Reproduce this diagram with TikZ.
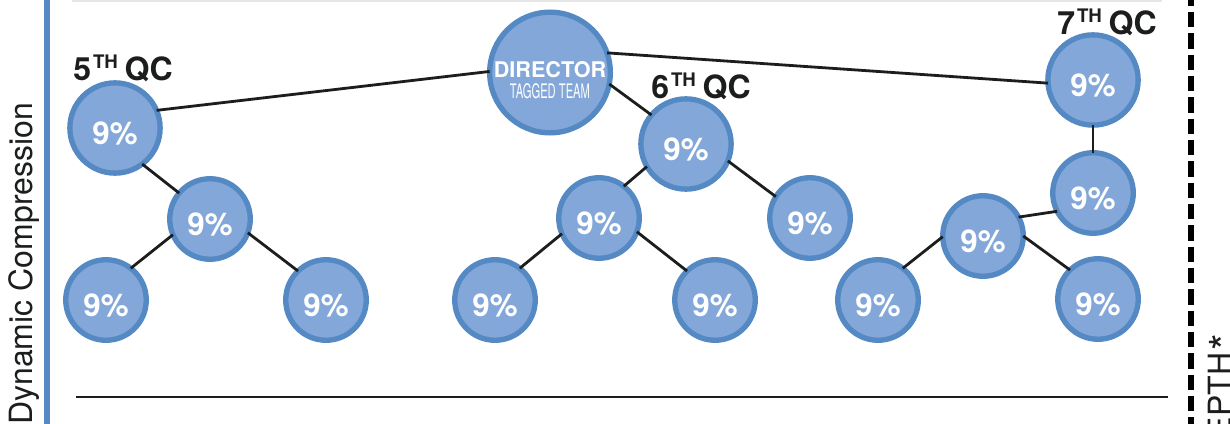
\documentclass[tikz,border=0pt]{standalone}
\usepackage{fontspec}
\setmainfont{TeX Gyre Heros}
\definecolor{ringblue}{HTML}{5589C4}
\definecolor{fillblue}{HTML}{82A7D8}
\definecolor{inkdark}{HTML}{1C1E1E}
\definecolor{rulegrey}{HTML}{E6E6E6}
\newcommand{\pct}{\fontsize{23.5}{24}\selectfont\bfseries 9\%}
\newcommand{\qctitle}[1]{\fontsize{24}{25}\selectfont\bfseries #1\hspace{1.5pt}\raisebox{9.5pt}{\fontsize{14}{15}\selectfont TH}\hspace{5pt}QC}
\tikzset{
  x=0.75pt,y=-0.75pt,
  ring/.style={circle,draw=ringblue,fill=fillblue,line width=4pt,inner sep=0pt,outer sep=0pt,text=white},
  bigring/.style={ring,minimum size=67.7pt,label={[text=white,yshift=-3.75pt]center:\pct}},
  smallring/.style={ring,minimum size=60.4pt,label={[text=white,yshift=-3.75pt]center:\pct}},
  link/.style={draw=inkdark,line width=2.1pt},
  qclabel/.style={anchor=base west,inner sep=0pt,text=inkdark},
  sidelabel/.style={rotate=90,inner sep=0pt,text=inkdark,font=\fontsize{24}{24}\selectfont},
}
\begin{document}
\begin{tikzpicture}
\useasboundingbox (0,0) rectangle (1230,424);
\clip (0,0) rectangle (1230,424);
\fill[white] (0,0) rectangle (1230,424);
\fill[rulegrey] (72,0) rectangle (1162,2);
\fill[ringblue] (44,0) rectangle (50,424);
\coordinate (baseL) at (76,397);
\coordinate (baseR) at (1168,397);
\draw[link] (baseL) -- (baseR);
\coordinate (dashT) at (1191.2,-9.3);
\coordinate (dashB) at (1191.2,424);
\draw[black,line width=4.2pt,dash pattern=on 11.5pt off 4.5pt] (dashT) -- (dashB);
\node[sidelabel,anchor=base west] (dyn) at (32,425) {Dynamic Compression};
\node[sidelabel,anchor=base east] (depth) at (1231,334) {EPTH\hspace{1.5pt}\raisebox{-7pt}{\fontsize{32}{32}\selectfont *}};
% nodes
\node[ring,minimum size=90.5pt] (dir) at (550,72.5) {};
\node[text=white,inner sep=0pt,anchor=base,font=\fontsize{16.2}{17}\selectfont\bfseries] (dirt) at (550,78) {DIRECTOR};
\node[text=white,inner sep=0pt,anchor=base,font=\fontsize{15}{15}\selectfont] (dirs) at (550,99) {\scalebox{0.56}[1]{TAGGED TEAM}};
\node[bigring] (a) at (115,128) {};
\node[smallring] (a1) at (210,219) {};
\node[smallring] (a2) at (106,300) {};
\node[smallring] (a3) at (326,300) {};
\node[bigring] (b) at (686,144) {};
\node[smallring] (b1) at (599,218) {};
\node[smallring] (b2) at (810,218) {};
\node[smallring] (b3) at (495,300) {};
\node[smallring] (b4) at (715,300) {};
\node[bigring] (c) at (1093,80) {};
\node[smallring] (c1) at (1093,193) {};
\node[smallring] (c2) at (983,236) {};
\node[smallring] (c3) at (878,300) {};
\node[smallring] (c4) at (1098,299) {};
% connectors
\draw[link] (a.23) -- (dir.179);
\draw[link] (dir.19) -- (c.184);
\draw[link] (dir.-11) -- (b.140);
\draw[link] (a.-53) -- (a1.140);
\draw[link] (a1.203) -- (a2.52);
\draw[link] (a1.-20) -- (a3.134);
\draw[link] (b.210) -- (b1.52);
\draw[link] (b.-22) -- (b2.148);
\draw[link] (b1.203) -- (b3.52);
\draw[link] (b1.-20) -- (b4.134);
\draw[link] (c.south) -- (c1.north);
\draw[link] (c1.207) -- (c2.28);
\draw[link] (c2.181) -- (c3.52);
\draw[link] (c2.0) -- (c4.134);
% titles
\node[qclabel] (ta) at (73,81) {\qctitle{5}};
\node[qclabel] (tb) at (651,99) {\qctitle{6}};
\node[qclabel] (tc) at (1057,35) {\qctitle{7}};
\end{tikzpicture}
\end{document}
